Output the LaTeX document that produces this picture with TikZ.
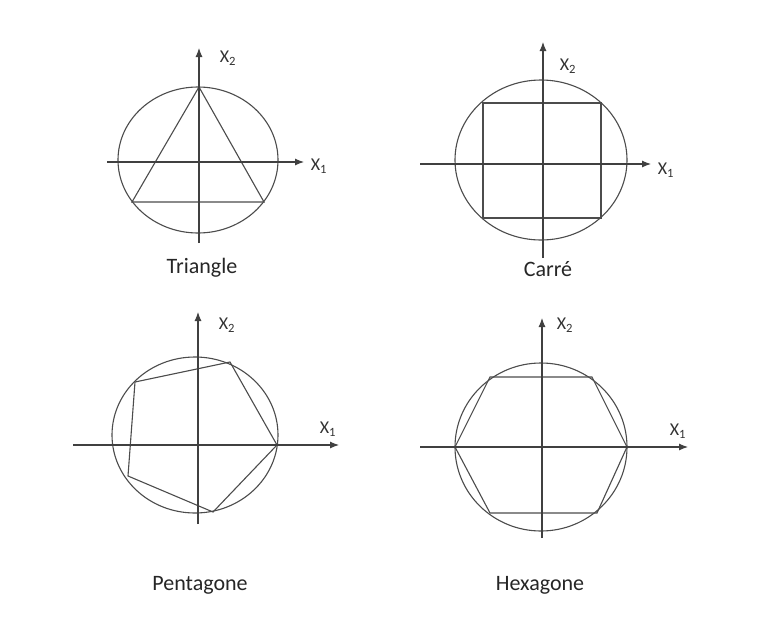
\documentclass[tikz,border=0pt]{standalone}
\usepackage{fontspec}
\setmainfont{Carlito}
\usetikzlibrary{arrows.meta}
\begin{document}
\begin{tikzpicture}[x=1pt,y=-1pt,
  ln/.style={draw=black!75, line width=1.1pt},
  axis/.style={ln, -{Latex[length=9pt,width=7pt]}},
  shapeline/.style={draw=black!70, line width=1.1pt},
  axlabel/.style={font=\fontsize{18}{20}\selectfont, text=black!80, inner sep=0pt},
  caption/.style={font=\fontsize{22}{25}\selectfont, text=black!85, inner sep=0pt}]
\useasboundingbox (0,0) rectangle (763,643);
\fill[white] (0,0) rectangle (763,643);

% ---------- Triangle ----------
\draw[shapeline] (198,160) ellipse [x radius=80, y radius=73];
\coordinate (ta) at (199,87);
\coordinate (tb) at (132,202);
\coordinate (tc) at (264,202);
\draw[shapeline] (ta) -- (tb) -- (tc) -- cycle;
\coordinate (t1s) at (107,162); \coordinate (t1e) at (304,162);
\coordinate (t2s) at (199,243); \coordinate (t2e) at (199,48);
\draw[axis] (t1s) -- (t1e);
\draw[axis] (t2s) -- (t2e);
\node[axlabel] (tx1) at (319,166) {X\textsubscript{1}};
\node[axlabel] (tx2) at (228,58) {X\textsubscript{2}};
\node[caption] (tcap) at (202,268) {Triangle};

% ---------- Carre ----------
\draw[shapeline] (541,160) ellipse [x radius=86, y radius=80];
\coordinate (sa) at (483,103);
\coordinate (sb) at (601,103);
\coordinate (sc) at (601,218);
\coordinate (sd) at (483,218);
\draw[shapeline] (sa) -- (sb) -- (sc) -- (sd) -- cycle;
\draw[shapeline, line width=1.8pt] (sa) -- (sd);
\coordinate (s1s) at (420,164); \coordinate (s1e) at (651,164);
\coordinate (s2s) at (543,258); \coordinate (s2e) at (543,42);
\draw[axis] (s1s) -- (s1e);
\draw[axis] (s2s) -- (s2e);
\node[axlabel] (sx1) at (666,170) {X\textsubscript{1}};
\node[axlabel] (sx2) at (568,66) {X\textsubscript{2}};
\node[caption] (scap) at (548,269) {Carré};

% ---------- Pentagone ----------
\draw[shapeline] (195,435) ellipse [x radius=83, y radius=78];
\coordinate (pa) at (277,445);
\coordinate (pb) at (230,362);
\coordinate (pc) at (135,382);
\coordinate (pd) at (128,476);
\coordinate (pe) at (213,512);
\draw[shapeline] (pa) -- (pb) -- (pc) -- (pd) -- (pe) -- cycle;
\coordinate (p1s) at (73,445); \coordinate (p1e) at (339,445);
\coordinate (p2s) at (198,524); \coordinate (p2e) at (198,312);
\draw[axis] (p1s) -- (p1e);
\draw[axis] (p2s) -- (p2e);
\node[axlabel] (px1) at (328,429) {X\textsubscript{1}};
\node[axlabel] (px2) at (227,325) {X\textsubscript{2}};
\node[caption] (pcap) at (200,585) {Pentagone};

% ---------- Hexagone ----------
\draw[shapeline] (541,447) ellipse [x radius=86, y radius=84];
\coordinate (ha) at (627,447);
\coordinate (hb) at (592,377);
\coordinate (hc) at (490,377);
\coordinate (hd) at (455,447);
\coordinate (he) at (490,513);
\coordinate (hf) at (597,513);
\draw[shapeline] (ha) -- (hb) -- (hc) -- (hd) -- (he) -- (hf) -- cycle;
\coordinate (h1s) at (420,447); \coordinate (h1e) at (688,447);
\coordinate (h2s) at (542,538); \coordinate (h2e) at (542,318);
\draw[axis] (h1s) -- (h1e);
\draw[axis] (h2s) -- (h2e);
\node[axlabel] (hx1) at (678,431) {X\textsubscript{1}};
\node[axlabel] (hx2) at (565,325) {X\textsubscript{2}};
\node[caption] (hcap) at (540,585) {Hexagone};
\end{tikzpicture}
\end{document}
